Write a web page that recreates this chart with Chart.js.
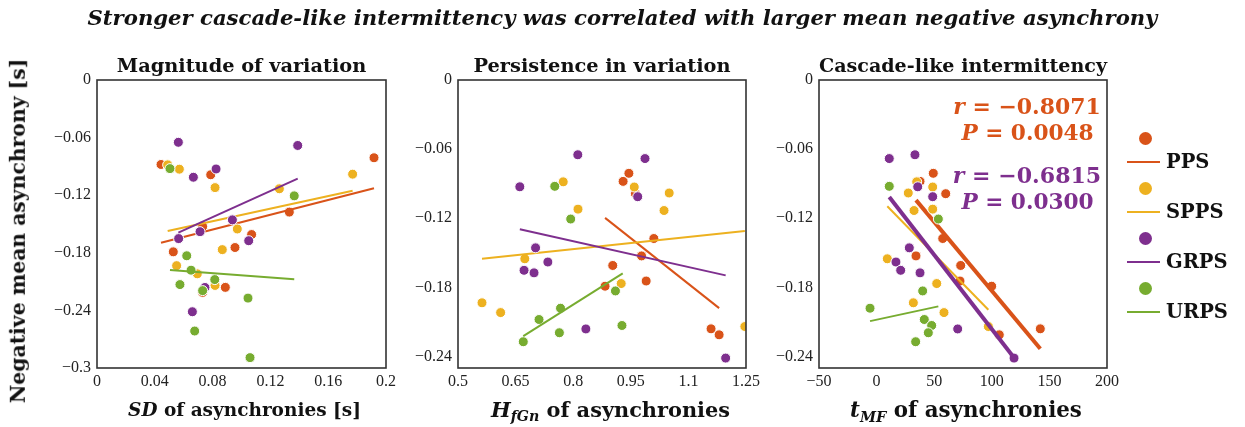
<!DOCTYPE html>
<html><head><meta charset="utf-8">
<script src="https://cdn.jsdelivr.net/npm/chart.js@4.4.1/dist/chart.umd.min.js"></script>
<style>
html,body{margin:0;padding:0;background:#fff;}
#wrap{position:relative;width:1245px;height:427px;overflow:hidden;background:#fff;}
canvas{position:absolute;top:0;}
.t{position:absolute;white-space:nowrap;color:#111;font-family:"DejaVu Serif",serif;font-weight:bold;line-height:1;transform:translate(-50%,-50%);font-size:20px;}
.t sub{font-size:0.68em;vertical-align:-0.32em;line-height:0;font-style:italic;}
.rot{transform:translate(-50%,-50%) rotate(-90deg);}
.dot{position:absolute;width:13px;height:13px;border-radius:50%;}
.lline{position:absolute;width:33px;height:2.5px;}
.lab{position:absolute;white-space:nowrap;color:#111;font-family:"DejaVu Serif",serif;font-weight:bold;line-height:1;transform:translateY(-50%);font-size:17px;}
</style></head><body>
<div id="wrap">
<canvas id="c1" width="400" height="427" style="left:0px"></canvas>
<canvas id="c2" width="362" height="427" style="left:400px"></canvas>
<canvas id="c3" width="362" height="427" style="left:762px"></canvas>

<div class="t" data-x="622.5" data-y="18" data-w="1069" style="font-style:italic">Stronger cascade-like intermittency was correlated with larger mean negative asynchrony</div>
<div class="t rot" data-x="18" data-y="231" data-w="345">Negative mean asynchrony [s]</div>
<div class="t" data-x="244.5" data-y="410" data-w="233"><i>SD</i> of asynchronies [s]</div>
<div class="t" data-x="610.5" data-y="410" data-w="239"><i>H</i><sub>fGn</sub> of asynchronies</div>
<div class="t" data-x="966" data-y="410" data-w="232"><i>t</i><sub>MF</sub> of asynchronies</div>
<div class="t" data-x="1027" data-y="107" data-w="147" style="color:#D95319"><i>r</i> = −0.8071</div>
<div class="t" data-x="1027.5" data-y="133" data-w="132" style="color:#D95319"><i>P</i> = 0.0048</div>
<div class="t" data-x="1027" data-y="175" data-w="148" style="color:#7E2F8E"><i>r</i> = −0.6815</div>
<div class="t" data-x="1027.5" data-y="202" data-w="132" style="color:#7E2F8E"><i>P</i> = 0.0300</div>
<div id="legend"></div>
</div>
<script>
// ---------- data ----------
const GROUPS = ['PPS','SPPS','GRPS','URPS'];
const COLORS = ['#D95319','#EDB120','#7E2F8E','#77AC30'];

// negative mean asynchrony [s] per participant (same in every panel)
const PPS_Y  = [-0.0810,-0.0880,-0.0987,-0.1376,-0.1527,-0.1610,-0.1745,-0.1790,-0.2160,-0.2212];
const SPPS_Y = [-0.0884,-0.0929,-0.0981,-0.1121,-0.1133,-0.1552,-0.1767,-0.1934,-0.2019,-0.2140];
const GRPS_Y = [-0.0649,-0.0682,-0.0927,-0.1013,-0.1457,-0.1580,-0.1652,-0.1674,-0.2161,-0.2414];
const URPS_Y = [-0.0923,-0.1207,-0.1831,-0.1981,-0.2079,-0.2131,-0.2194,-0.2272,-0.2615,-0.2892];

// panel 1: SD of asynchronies [s]
const SD_PPS  = [0.1917,0.0443,0.0787,0.1331,0.0731,0.1070,0.0955,0.0528,0.0888,0.0731];
const SD_SPPS = [0.0489,0.0570,0.1769,0.0817,0.1262,0.0971,0.0867,0.0551,0.0694,0.0817];
const SD_GRPS = [0.0563,0.1389,0.0824,0.0667,0.0937,0.0713,0.0565,0.1050,0.0747,0.0660];
const SD_URPS = [0.0505,0.1365,0.0621,0.0651,0.0815,0.0574,0.0731,0.1045,0.0676,0.1059];

// panel 2: H_fGn of asynchronies (null = outside the visible range)
const H_PPS  = [0.945,0.930,0.962,1.010,0.978,0.903,0.990,0.883,1.159,1.180];
const H_SPPS = [0.774,0.959,1.050,0.8125,1.0365,0.674,0.925,0.5625,0.611,1.247];
const H_GRPS = [0.812,0.987,0.661,0.968,0.702,0.734,0.672,0.698,0.833,1.197];
const H_URPS = [0.752,0.7935,0.910,0.767,0.711,0.927,0.764,0.670,null,null];

// panel 3: t_MF of asynchronies
const T_PPS  = [49.2,37.7,60.0,57.4,34.2,73.0,72.4,99.9,142.1,106.5];
const T_SPPS = [34.8,48.7,27.5,48.7,32.5,9.3,52.2,31.9,58.5,97.0];
const T_GRPS = [33.3,11.0,35.7,48.7,28.4,16.8,20.9,37.7,70.4,119.3];
const T_URPS = [11.0,53.6,40.0,-5.7,41.4,47.8,44.9,33.9,null,null];

// regression lines: [x1, y1, x2, y2]
const FIT_SD_PPS  = [0.0443,-0.1695,0.1917,-0.1128];
const FIT_SD_SPPS = [0.0489,-0.1573,0.1769,-0.1153];
const FIT_SD_GRPS = [0.0563,-0.1590,0.1389,-0.1028];
const FIT_SD_URPS = [0.0505,-0.1979,0.1365,-0.2076];
const FIT_H_PPS   = [0.883,-0.1197,1.180,-0.1980];
const FIT_H_SPPS  = [0.5625,-0.1551,1.247,-0.1310];
const FIT_H_GRPS  = [0.661,-0.1296,1.197,-0.1696];
const FIT_H_URPS  = [0.670,-0.2223,0.929,-0.1678];
const FIT_T_PPS   = [34.2,-0.1043,142.1,-0.2333];
const FIT_T_SPPS  = [9.3,-0.1096,97.0,-0.1994];
const FIT_T_GRPS  = [11.0,-0.1015,119.3,-0.2411];
const FIT_T_URPS  = [-5.7,-0.2093,53.6,-0.1965];

// ticks
const X1_TICKS = [0,0.04,0.08,0.12,0.16,0.2];
const X1_LABELS = ['0','0.04','0.08','0.12','0.16','0.2'];
const X2_TICKS = [0.5,0.65,0.8,0.95,1.1,1.25];
const X2_LABELS = ['0.5','0.65','0.8','0.95','1.1','1.25'];
const X3_TICKS = [-50,0,50,100,150,200];
const X3_LABELS = ['−50','0','50','100','150','200'];
const Y1_TICKS = [0,-0.06,-0.12,-0.18,-0.24,-0.3];
const Y1_LABELS = ['0','−0.06','−0.12','−0.18','−0.24','−0.3'];
const Y23_TICKS = [0,-0.06,-0.12,-0.18,-0.24];
const Y23_LABELS = ['0','−0.06','−0.12','−0.18','−0.24'];

const TITLES = ['Magnitude of variation','Persistence in variation','Cascade-like intermittency'];

// ---------- layout helpers ----------
const mctx = document.createElement('canvas').getContext('2d');
function fitSize(text, target){ mctx.font = 'bold 100px "DejaVu Serif"'; return 100*target/mctx.measureText(text).width; }
const titleWidths = [252,256,291];
let ts = 0; TITLES.forEach((t,i)=>{ ts += fitSize(t,titleWidths[i]); }); ts /= 3;

const boxPlugin = {
  id:'box',
  afterDatasetsDraw(chart){
    const a = chart.chartArea, c = chart.ctx;
    c.save(); c.strokeStyle = '#333'; c.lineWidth = 1.6;
    c.strokeRect(a.left, a.top, a.right-a.left, a.bottom-a.top); c.restore();
  }
};

function labelFor(ticks, labels){
  return (v)=>{ for(let i=0;i<ticks.length;i++){ if(Math.abs(ticks[i]-v)<1e-9) return labels[i]; } return ''; };
}

function makePanel(id, cfg){
  const datasets = [];
  let k = 0;
  for(let g=0; g<4; g++){
    const xs = cfg.xs[g], ys = cfg.ys[g], f = cfg.fits[g];
    const pts = [];
    for(let i=0;i<xs.length;i++){ if(xs[i]!==null) pts.push({x:xs[i], y:ys[i]}); }
    datasets.push({label:GROUPS[g], data:pts, backgroundColor:COLORS[g], borderColor:'#ffffff', borderWidth:1,
      pointRadius:5, pointHoverRadius:5, showLine:false, order:7-k}); k++;
    datasets.push({label:GROUPS[g]+' fit', data:[{x:f[0],y:f[1]},{x:f[2],y:f[3]}], showLine:true,
      borderColor:COLORS[g], backgroundColor:COLORS[g], borderWidth:cfg.widths[g], pointRadius:0, tension:0, fill:false, order:7-k}); k++;
  }
  const tFont = {family:'"DejaVu Serif"', weight:'bold', size:ts, lineHeight:1.2};
  const padTop = 67 - 0.6*ts, padBottom = 80 - padTop - 1.2*ts;
  return new Chart(document.getElementById(id), {
    type:'scatter',
    data:{datasets},
    options:{
      responsive:false, animation:false, devicePixelRatio:1,
      layout:{padding:{left:0, right:cfg.padRight, top:0, bottom:0}},
      plugins:{
        legend:{display:false}, tooltip:{enabled:false},
        title:{display:true, text:cfg.title, fullSize:false, color:'#111', font:tFont, padding:{top:padTop, bottom:padBottom}}
      },
      scales:{
        x:{type:'linear', min:cfg.xmin, max:cfg.xmax,
           grid:{display:false, drawTicks:false}, border:{display:false},
           ticks:{font:{family:'"Liberation Serif"', size:16}, color:'#222', padding:4, maxRotation:0, minRotation:0, autoSkip:false,
                  callback:labelFor(cfg.xticks, cfg.xlabels)},
           afterBuildTicks:(s)=>{ s.ticks = cfg.xticks.map(v=>({value:v})); },
           afterFit:(s)=>{ s.height = 427-368; s.paddingLeft=0; s.paddingRight=0; }},
        y:{type:'linear', min:cfg.ymin, max:0,
           grid:{display:false, drawTicks:false}, border:{display:false},
           ticks:{font:{family:'"Liberation Serif"', size:16}, color:'#222', padding:6, autoSkip:false,
                  callback:labelFor(cfg.yticks, cfg.ylabels)},
           afterBuildTicks:(s)=>{ s.ticks = cfg.yticks.map(v=>({value:v})); },
           afterFit:(s)=>{ s.width = cfg.yWidth; s.paddingTop=0; s.paddingBottom=0; }}
      }
    },
    plugins:[boxPlugin]
  });
}

const YS = [PPS_Y, SPPS_Y, GRPS_Y, URPS_Y];
makePanel('c1', {title:TITLES[0], xmin:0, xmax:0.2, ymin:-0.3, xticks:X1_TICKS, xlabels:X1_LABELS, yticks:Y1_TICKS, ylabels:Y1_LABELS,
  yWidth:97, padRight:400-386, xs:[SD_PPS,SD_SPPS,SD_GRPS,SD_URPS], ys:YS,
  fits:[FIT_SD_PPS,FIT_SD_SPPS,FIT_SD_GRPS,FIT_SD_URPS], widths:[2,2,2,2]});
makePanel('c2', {title:TITLES[1], xmin:0.5, xmax:1.25, ymin:-0.25, xticks:X2_TICKS, xlabels:X2_LABELS, yticks:Y23_TICKS, ylabels:Y23_LABELS,
  yWidth:458-400, padRight:362-(746-400), xs:[H_PPS,H_SPPS,H_GRPS,H_URPS], ys:YS,
  fits:[FIT_H_PPS,FIT_H_SPPS,FIT_H_GRPS,FIT_H_URPS], widths:[2,2,2,2]});
makePanel('c3', {title:TITLES[2], xmin:-50, xmax:200, ymin:-0.25, xticks:X3_TICKS, xlabels:X3_LABELS, yticks:Y23_TICKS, ylabels:Y23_LABELS,
  yWidth:819-762, padRight:362-(1107-762), xs:[T_PPS,T_SPPS,T_GRPS,T_URPS], ys:YS,
  fits:[FIT_T_PPS,FIT_T_SPPS,FIT_T_GRPS,FIT_T_URPS], widths:[4,2,4,2]});

// legend
const lg = document.getElementById('legend');
GROUPS.forEach((g,i)=>{
  const cy = 138 + 50*i, ly = 162 + 50*i;
  const d = document.createElement('div'); d.className='dot'; d.style.left=(1145-6.5)+'px'; d.style.top=(cy-6.5)+'px'; d.style.background=COLORS[i]; lg.appendChild(d);
  const l = document.createElement('div'); l.className='lline'; l.style.left='1127px'; l.style.top=(ly-1.25)+'px'; l.style.background=COLORS[i]; lg.appendChild(l);
  const t = document.createElement('div'); t.className='lab'; t.style.left='1166px'; t.style.top=ly+'px'; t.textContent=g; lg.appendChild(t);
});
// fit legend label size to URPS width 62
const labs = lg.querySelectorAll('.lab');
const uw = labs[3].offsetWidth; const ls = 17*62/uw;
labs.forEach(e=>{ e.style.fontSize = ls+'px'; });

// place & fit overlay texts
document.querySelectorAll('.t').forEach(el=>{
  el.style.left = el.dataset.x+'px'; el.style.top = el.dataset.y+'px';
  for(let it=0; it<2; it++){
    const fs = parseFloat(getComputedStyle(el).fontSize);
    el.style.fontSize = (fs*(+el.dataset.w)/el.offsetWidth)+'px';
  }
});
</script>
</body></html>
